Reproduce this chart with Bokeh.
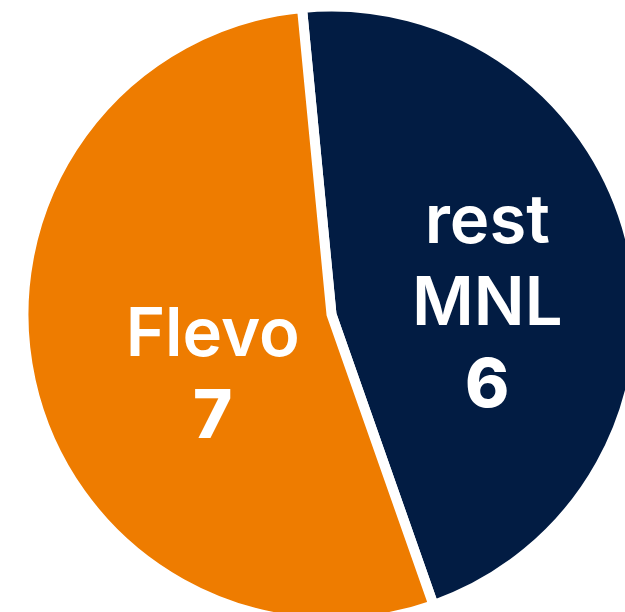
import math
from bokeh.plotting import figure
from bokeh.models import Range1d, ColumnDataSource
from bokeh.core.properties import value
from bokeh.embed import file_html
from bokeh.resources import INLINE

# ---- data ----
categories = ["rest MNL", "Flevo"]
counts = [6, 7]
colors = ["#021C43", "#EE7C00"]

# ---- styling / layout ----
W, H = 625, 612
NAME_FONT = "Inter SemiBold, Inter"
NUM_FONT = "Inter ExtraBold, Inter"
FONT_SIZE = "67px"
LINE_GAP = 82
CAP = 48
start_deg = -5.5          # first slice starts this many degrees (clockwise) from 12 o'clock
label_frac = 0.55         # label distance as fraction of radius
label_nudge_x = [-7, 44]  # per-slice horizontal nudge (px)
label_nudge_y = 2         # vertical nudge (px), incl. renderer baseline compensation

p = figure(width=W, height=H, output_backend="svg", toolbar_location=None,
           x_range=Range1d(0, W), y_range=Range1d(-H, 0),
           min_border=0)
p.axis.visible = False
p.grid.visible = False
p.outline_line_color = None
p.background_fill_color = "white"
p.border_fill_color = "white"

cx, cy, R = 331, -314, 303
total = sum(counts)
starts, ends, mids = [], [], []
acc = start_deg
for c in counts:
    span = 360.0 * c / total
    starts.append(math.radians(90 - acc))
    ends.append(math.radians(90 - (acc + span)))
    mids.append(acc + span / 2)
    acc += span

src = ColumnDataSource(dict(start=starts, end=ends, color=colors))
p.wedge(x=cx, y=cy, radius=R + 5, start_angle="start", end_angle="end",
        direction="clock", fill_color="color", line_color="white",
        line_width=10, line_join="miter", source=src)

for i, cat in enumerate(categories):
    phi = math.radians(mids[i])
    ax = cx + label_frac * R * math.sin(phi) + label_nudge_x[i]
    ay = cy + label_frac * R * math.cos(phi) + label_nudge_y
    lines = cat.split(" ") + [str(counts[i])]
    n = len(lines)
    b1 = ay - CAP / 2 + (n - 1) * LINE_GAP / 2
    for k, t in enumerate(lines):
        bold = (k == n - 1)
        p.text(x=[ax], y=[b1 - k * LINE_GAP], text=[t],
               text_font=value(NUM_FONT if bold else NAME_FONT),
               text_font_size=FONT_SIZE,
               text_font_style="bold" if bold else "normal",
               text_color="white", text_align="center",
               text_baseline="alphabetic")

open("out.html", "w").write(file_html(p, INLINE))
